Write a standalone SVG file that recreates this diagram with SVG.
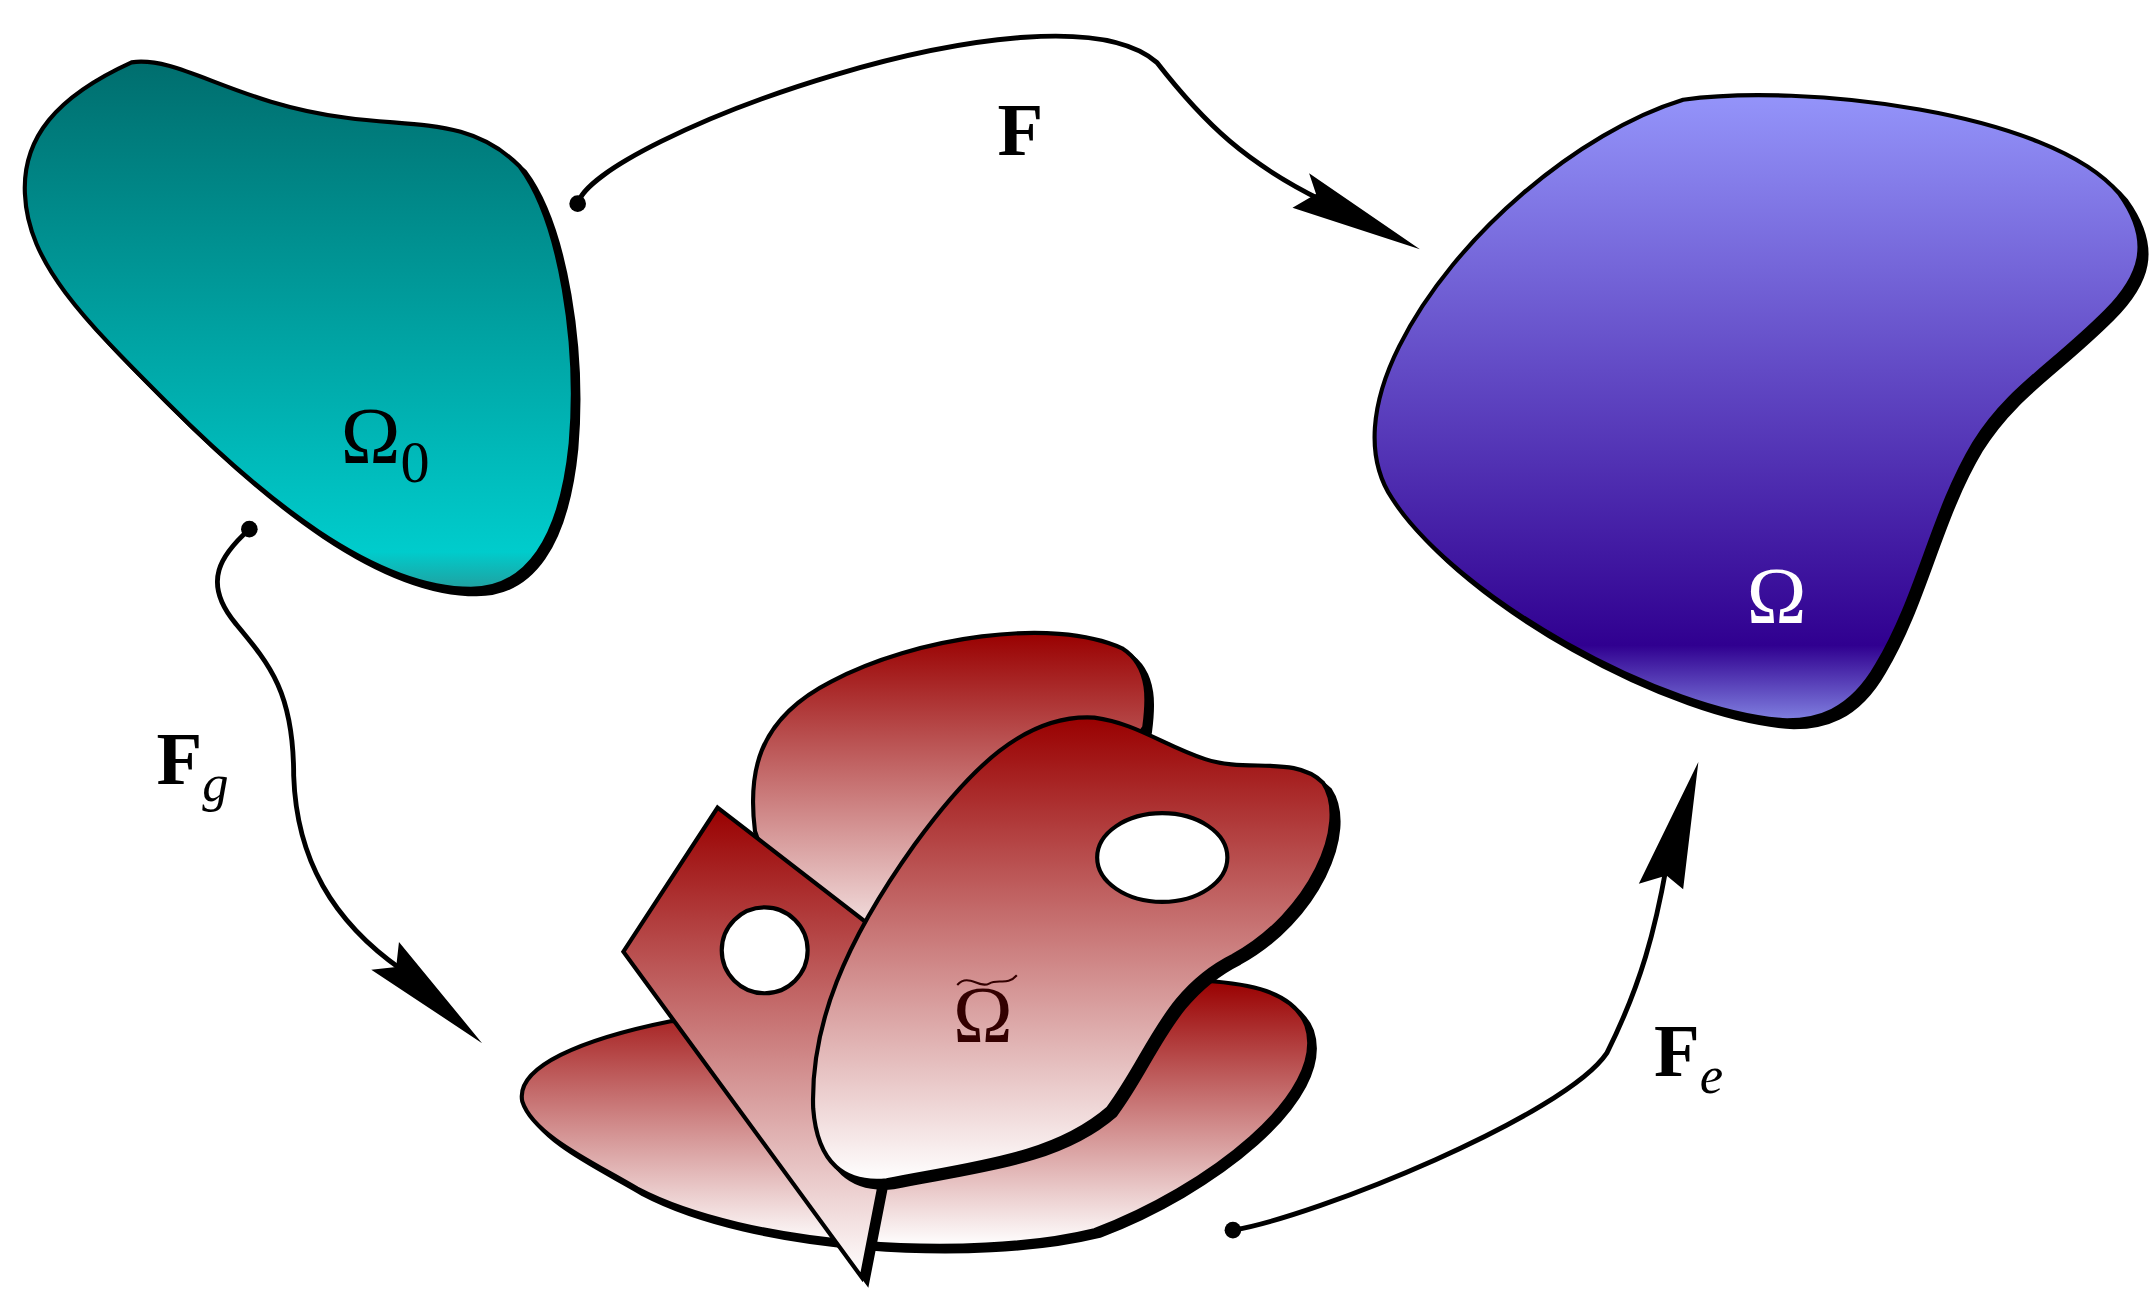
<svg xmlns="http://www.w3.org/2000/svg" xmlns:xlink="http://www.w3.org/1999/xlink" width="2150" height="1292" viewBox="0 0 2150 1292">
<style>
.o{stroke:#000;stroke-width:3}
.sh{fill:#000;stroke:#000;stroke-width:3}
.c{fill:none;stroke:#000;stroke-width:3.5}
.t{font-family:"Liberation Serif",serif}
</style>
<defs>
<linearGradient id="gt" x1="0" y1="0" x2="0" y2="1"><stop offset="0" stop-color="#006e6e"/><stop offset="0.93" stop-color="#00cccc"/><stop offset="1" stop-color="#20a0a0"/></linearGradient>
<linearGradient id="gb" x1="0" y1="0" x2="0" y2="1"><stop offset="0" stop-color="#9494fa"/><stop offset="0.88" stop-color="#300090"/><stop offset="1" stop-color="#8080e0"/></linearGradient>
<linearGradient id="gr" x1="0" y1="0" x2="0" y2="1"><stop offset="0" stop-color="#990000"/><stop offset="1" stop-color="#ffffff"/></linearGradient>
<path id="p0" d="M95,45 C130,40 170,75 250,85 C300,92 340,85 375,120 C405,160 418,250 412,320 C405,390 380,425 340,425 C270,425 190,360 120,290 C60,230 20,190 18,140 C16,100 40,70 95,45 Z"/>
<path id="p1" d="M1215,72 C1300,60 1480,80 1530,140 C1555,175 1545,200 1520,225 C1480,265 1450,280 1425,320 C1395,370 1385,430 1355,480 C1335,515 1310,520 1290,520 C1200,515 1050,430 1005,360 C985,330 990,290 1010,250 C1050,170 1140,95 1215,72 Z"/>
<path id="r1" d="M545,600 C540,560 545,520 600,492 C660,460 760,445 810,468 C832,482 828,510 826,525 L700,700 L580,700 Z"/>
<path id="r2" d="M485,737 C420,750 372,770 377,795 C385,820 430,840 460,858 C540,900 700,910 790,888 C870,858 960,790 943,740 C933,715 900,710 870,708 L700,760 Z"/>
<path id="r3" d="M518,583 L628,668 L638,840 L622,922 L450,687 Z"/>
<path id="r4" d="M790,518 C820,522 840,538 870,548 C900,558 935,545 955,565 C975,595 945,660 890,690 C840,715 830,760 800,800 C760,835 700,840 640,852 C610,855 590,840 587,800 C585,740 610,680 660,610 C700,555 740,515 790,518 Z"/>
</defs>
<g transform="scale(1.3853)">
<g id="omega0">
<use xlink:href="#p0" class="sh" transform="translate(4,4)"/>
<use xlink:href="#p0" class="o" fill="url(#gt)"/>
<text class="t" x="246" y="334" style="font-size:58px">Ω<tspan style="font-size:42px" dy="14">0</tspan></text>
</g>
<g id="omega">
<use xlink:href="#p1" class="sh" transform="translate(5,5)"/>
<use xlink:href="#p1" class="o" fill="url(#gb)"/>
<text class="t" x="1261" y="450" fill="#fff" style="font-size:58px">Ω</text>
</g>
<g id="omegatilde">
<use xlink:href="#r1" class="sh" transform="translate(4,4)"/>
<use xlink:href="#r1" class="o" fill="url(#gr)"/>
<use xlink:href="#r2" class="sh" transform="translate(4,4)"/>
<use xlink:href="#r2" class="o" fill="url(#gr)"/>
<use xlink:href="#r3" class="sh" transform="translate(4,4)"/>
<use xlink:href="#r3" class="o" fill="url(#gr)"/>
<circle cx="552" cy="686" r="31" fill="#fff" class="o"/>
<use xlink:href="#r4" class="sh" transform="translate(5,5)"/>
<use xlink:href="#r4" class="o" fill="url(#gr)"/>
<ellipse cx="839" cy="619" rx="47" ry="32" fill="#fff" class="o"/>
<text class="t" x="688" y="752" fill="#300" style="font-size:58px">Ω</text>
<path d="M691,711 C699,702 707,714 714,710 C721,706 727,712 734,704" fill="none" stroke="#300" stroke-width="1.5"/>
</g>
<g id="connectors">
<path class="c" d="M417,147 C430,100 760,-20 835,45 C870,90 900,118 955,145"/>
<path d="M1025,180 L945,125 L950,140 L933,150 Z"/>
<circle cx="417" cy="147" r="6"/>
<path class="c" d="M890,888 C950,878 1130,805 1160,760 C1185,710 1195,670 1203,625"/>
<path d="M1226,550 L1215,642 L1203,632 L1183,638 Z"/>
<circle cx="890" cy="888" r="6"/>
<path class="c" d="M180,382 C160,400 145,420 170,450 C195,480 212,500 212,560 C214,620 240,665 290,700"/>
<path d="M348,753 L288,680 L286,698 L268,700 Z"/>
<circle cx="180" cy="382" r="6"/>
<text class="t" x="720" y="112" font-weight="bold" style="font-size:54px">F</text>
<text class="t" x="113" y="566" font-weight="bold" style="font-size:54px">F<tspan font-weight="normal" font-style="italic" style="font-size:38px" dy="12">g</tspan></text>
<text class="t" x="1194" y="777" font-weight="bold" style="font-size:54px">F<tspan font-weight="normal" font-style="italic" style="font-size:38px" dy="12">e</tspan></text>
</g>
</g>
</svg>
